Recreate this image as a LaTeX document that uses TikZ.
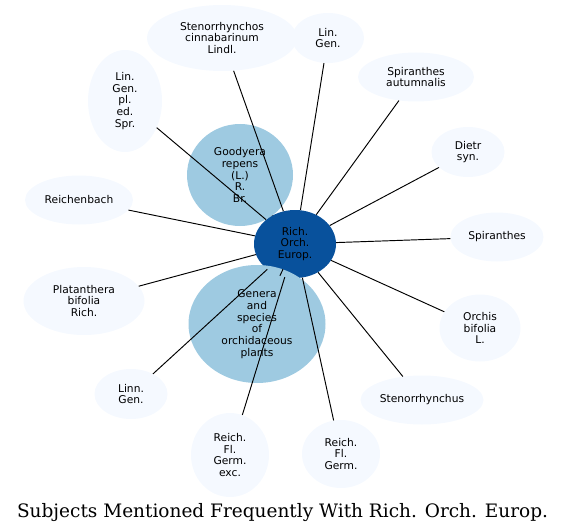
\documentclass[tikz,border=0pt]{standalone}
\usepackage{fontspec}
\usetikzlibrary{shapes.geometric}
\newfontfamily\nodefontfam{DejaVu Sans}
\newfontfamily\titlefontfam{DejaVu Serif}
\definecolor{paleblue}{HTML}{F5F9FF}
\definecolor{midblue}{HTML}{9ECAE1}
\definecolor{darkblue}{HTML}{08519C}
\tikzset{
  base/.style={ellipse, inner sep=0pt, align=center, text=black,
    font={\nodefontfam\fontsize{10.7}{11.7}\selectfont}},
  pale/.style={base, fill=paleblue},
  mid/.style={base, fill=midblue},
  hub/.style={base, fill=darkblue},
  link/.style={draw=black, line width=0.95pt}
}
\begin{document}
\begin{tikzpicture}[x=1pt,y=-1pt]
\useasboundingbox (0,0) rectangle (567,532);
% outer nodes
\node[pale, minimum width=150pt, minimum height=66pt] (stc) at (222,38) {Stenorrhynchos\\cinnabarinum\\Lindl.};
\node[pale, minimum width=72pt, minimum height=50pt] (lgt) at (328,38) {Lin.\\Gen.};
\node[pale, minimum width=116pt, minimum height=49pt] (spa) at (416,77) {Spiranthes\\autumnalis};
\node[pale, minimum width=73pt, minimum height=50pt] (die) at (468,152) {Dietr\\syn.};
\node[pale, minimum width=93pt, minimum height=49pt] (spi) at (497,237) {Spiranthes};
\node[pale, minimum width=81pt, minimum height=67pt] (orc) at (480,328) {Orchis\\bifolia\\L.};
\node[pale, minimum width=123pt, minimum height=49pt] (stn) at (422,400) {Stenorrhynchus};
\node[pale, minimum width=78pt, minimum height=68pt] (rfg) at (341,454) {Reich.\\Fl.\\Germ.};
\node[pale, minimum width=78pt, minimum height=84pt] (rfe) at (230,455) {Reich.\\Fl.\\Germ.\\exc.};
\node[pale, minimum width=73pt, minimum height=50pt] (lng) at (131,394) {Linn.\\Gen.};
\node[pale, minimum width=121pt, minimum height=68pt] (pla) at (84,301) {Platanthera\\bifolia\\Rich.};
\node[pale, minimum width=108pt, minimum height=49pt] (rei) at (79,200) {Reichenbach};
\node[pale, minimum width=74pt, minimum height=102pt] (lgp) at (125,101) {Lin.\\Gen.\\pl.\\ed.\\Spr.};
% inner nodes
\node[mid, minimum width=106pt, minimum height=102pt] (goo) at (240,175) {Goodyera\\repens\\(L.)\\R.\\Br.};
\node[hub, minimum width=82pt, minimum height=68pt] (hub) at (295,244) {Rich.\\Orch.\\Europ.};
\node[mid, minimum width=137pt, minimum height=118pt] (gen) at (257,324) {Genera\\and\\species\\of\\orchidaceous\\plants};
% connectors
\foreach \n in {stc,lgt,spa,die,spi,orc,stn,rfg,rfe,lng,pla,rei,lgp,goo,gen}
  \draw[link] (hub) -- (\n);
% title
\node[anchor=base, font={\titlefontfam\fontsize{18.5}{22}\selectfont}] (title) at (282.5,517) {Subjects Mentioned Frequently With Rich. Orch. Europ.};
\end{tikzpicture}
\end{document}
